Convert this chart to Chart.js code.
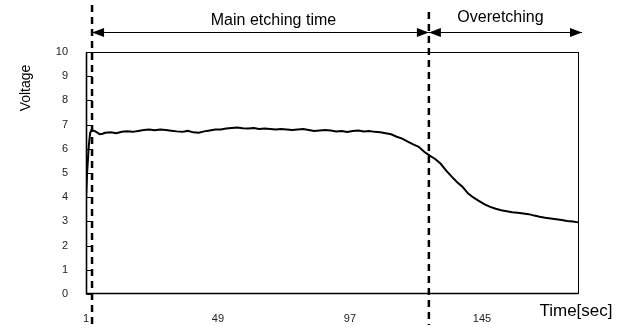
<!DOCTYPE html>
<html><head><meta charset="utf-8">
<script src="https://cdn.jsdelivr.net/npm/chart.js@4.4.1/dist/chart.umd.min.js"></script>
<style>html,body{margin:0;padding:0;background:#fff}canvas{display:block}</style>
</head><body>
<canvas id="c" width="622" height="325"></canvas>
<script>
const timeSec = [1,1.4,2,2.5,3,4,5,6,7,8,10,12,14,16,18,20,22,24,26,28,30,32,34,36,38,40,42,44,46,48,50,52,54,56,58,60,62,64,66,68,70,72,74,76,78,80,82,84,86,88,90,92,94,96,98,100,102,104,106,108,110,112,114,116,118,120,122,124,126,128,130,132,134,136,138,140,142,144,146,148,150,152,154,156,158,160,162,164,166,168,170,172,174,176,178,180];
const voltage = [3.9,5.0,6.1,6.65,6.78,6.74,6.68,6.6,6.62,6.66,6.68,6.64,6.7,6.72,6.7,6.74,6.78,6.8,6.77,6.8,6.78,6.75,6.72,6.7,6.74,6.68,6.66,6.72,6.76,6.8,6.8,6.84,6.86,6.88,6.85,6.84,6.86,6.82,6.84,6.82,6.8,6.82,6.8,6.78,6.8,6.82,6.78,6.74,6.76,6.78,6.76,6.72,6.74,6.7,6.74,6.76,6.72,6.74,6.7,6.68,6.64,6.6,6.5,6.42,6.3,6.18,6.08,5.88,5.72,5.58,5.38,5.1,4.85,4.62,4.42,4.15,3.98,3.84,3.7,3.6,3.52,3.46,3.42,3.38,3.36,3.33,3.3,3.24,3.19,3.15,3.12,3.09,3.06,3.02,3.0,2.96];
const xTickValues = [1,49,97,145];
const yTickValues = [0,1,2,3,4,5,6,7,8,9,10];
const phaseBoundaries = [3.2,125.7,181.4];
const phaseLabels = ['Main etching time','Overetching'];
const yAxisLabel = 'Voltage';
const xAxisLabel = 'Time[sec]';

const FONT = '"Liberation Sans", Arial, sans-serif';

const annot = {
  id: 'annot',
  afterDraw(chart) {
    const ctx = chart.ctx, a = chart.chartArea, xs = chart.scales.x, ys = chart.scales.y;
    ctx.save();
    ctx.strokeStyle = '#000';
    ctx.lineWidth = 1;
    const L = Math.round(a.left) + 0.5, T = Math.round(a.top) + 0.5, R = Math.round(a.right) - 0.5, B = Math.round(a.bottom) - 0.5;
    ctx.strokeRect(L, T, R - L, B - T);
    ctx.lineWidth = 1.6;
    ctx.beginPath(); ctx.moveTo(L, T); ctx.lineTo(L, B + 1); ctx.stroke();
    ctx.beginPath(); ctx.moveTo(L, B); ctx.lineTo(R, B); ctx.stroke();
    ctx.lineWidth = 1;
    yTickValues.forEach(v => {
      const y = Math.round(ys.getPixelForValue(v)) + 0.5;
      ctx.beginPath(); ctx.moveTo(L, y); ctx.lineTo(L + 6, y); ctx.stroke();
    });
    // dashed phase boundaries
    ctx.setLineDash([7, 5]);
    ctx.lineWidth = 2.5;
    [0, 1].forEach(i => {
      const x = xs.getPixelForValue(phaseBoundaries[i]);
      ctx.beginPath(); ctx.moveTo(x, i === 0 ? 5 : 12); ctx.lineTo(x, 325); ctx.stroke();
    });
    ctx.setLineDash([]);
    // arrows
    const ay = 32.5;
    ctx.fillStyle = '#000';
    for (let i = 0; i < 2; i++) {
      const x1 = xs.getPixelForValue(phaseBoundaries[i]);
      const x2 = xs.getPixelForValue(phaseBoundaries[i + 1]);
      ctx.lineWidth = 1;
      ctx.beginPath(); ctx.moveTo(x1, ay); ctx.lineTo(x2, ay); ctx.stroke();
      ctx.beginPath(); ctx.moveTo(x1, ay); ctx.lineTo(x1 + 12, ay - 4.5); ctx.lineTo(x1 + 12, ay + 4.5); ctx.closePath(); ctx.fill();
      ctx.beginPath(); ctx.moveTo(x2, ay); ctx.lineTo(x2 - 12, ay - 4.5); ctx.lineTo(x2 - 12, ay + 4.5); ctx.closePath(); ctx.fill();
    }
    ctx.font = '16px ' + FONT;
    ctx.textAlign = 'center';
    ctx.textBaseline = 'alphabetic';
    const m1 = (xs.getPixelForValue(phaseBoundaries[0]) + xs.getPixelForValue(phaseBoundaries[1])) / 2 + 13;
    ctx.fillText(phaseLabels[0], m1, 25);
    const m2 = (xs.getPixelForValue(phaseBoundaries[1]) + xs.getPixelForValue(phaseBoundaries[2])) / 2 - 5;
    ctx.fillText(phaseLabels[1], m2, 22);
    // axis titles
    ctx.font = '17px ' + FONT;
    ctx.fillText(xAxisLabel, 576, 316);
    ctx.save();
    ctx.translate(30, 88);
    ctx.rotate(-Math.PI / 2);
    ctx.font = '14px ' + FONT;
    ctx.fillText(yAxisLabel, 0, 0);
    ctx.restore();
    ctx.restore();
  }
};

new Chart(document.getElementById('c'), {
  type: 'line',
  data: {
    datasets: [{
      data: timeSec.map((t, i) => ({ x: t, y: voltage[i] })),
      borderColor: '#000',
      borderWidth: 2,
      pointRadius: 0,
      tension: 0,
      fill: false
    }]
  },
  options: {
    responsive: false,
    animation: false,
    events: [],
    layout: { padding: { left: 0, top: 52, right: 43, bottom: 0 } },
    plugins: { legend: { display: false }, tooltip: { enabled: false }, title: { display: false } },
    scales: {
      x: {
        type: 'linear',
        min: 1, max: 180.3,
        afterBuildTicks: s => { s.ticks = xTickValues.map(v => ({ value: v })); },
        afterFit: s => { s.height = 31; },
        grid: { display: false, drawTicks: false },
        border: { display: false },
        ticks: { font: { size: 11, family: FONT }, color: '#222', padding: 18, maxRotation: 0, autoSkip: false }
      },
      y: {
        min: 0, max: 10,
        afterBuildTicks: s => { s.ticks = yTickValues.map(v => ({ value: v })); },
        afterFit: s => { s.width = 86; },
        grid: { display: false, drawTicks: false },
        border: { display: false },
        ticks: { font: { size: 11, family: FONT }, color: '#222', padding: 18 }
      }
    }
  },
  plugins: [annot]
});
</script>
</body></html>
